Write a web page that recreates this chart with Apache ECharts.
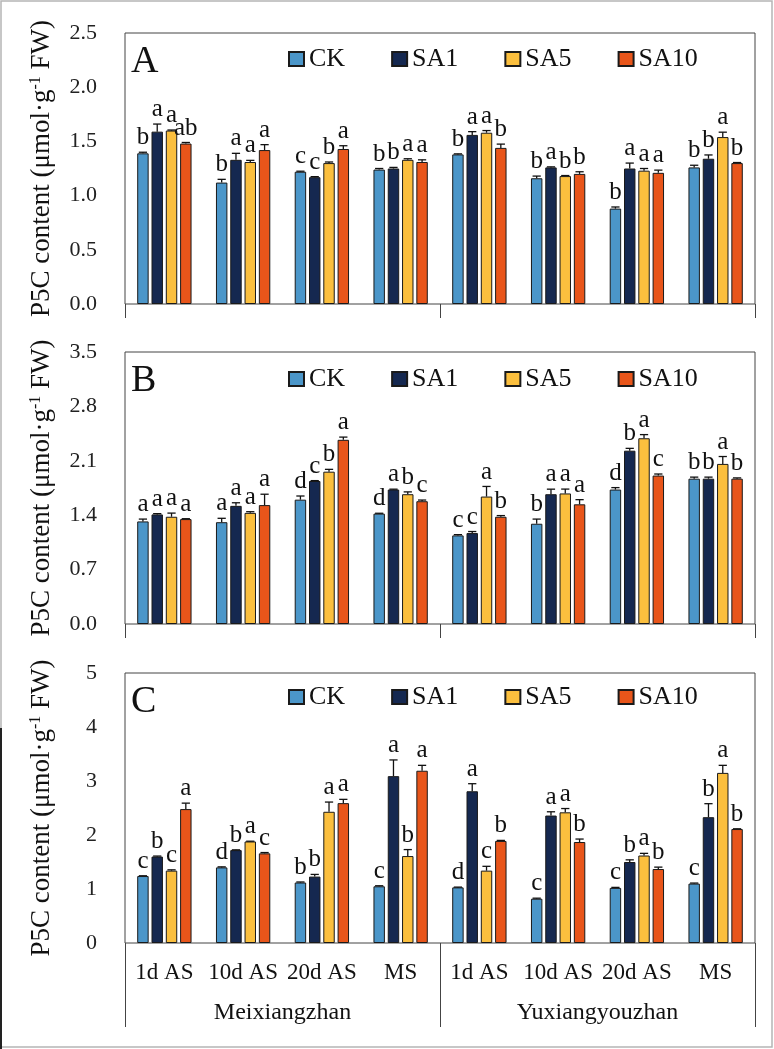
<!DOCTYPE html>
<html>
<head>
<meta charset="utf-8">
<script src="https://cdn.jsdelivr.net/npm/echarts@6/dist/echarts.min.js"></script>
<style>
html, body { margin: 0; padding: 0; background: #fff; }
#chart { width: 774px; height: 1049px; }
</style>
</head>
<body>
<div id="chart"></div>
<script>
// categories / groups / treatments
var categories = ['1d AS', '10d AS', '20d AS', 'MS', '1d AS', '10d AS', '20d AS', 'MS'];
var cultivars = ['Meixiangzhan', 'Yuxiangyouzhan'];
var treatments = ['CK', 'SA1', 'SA5', 'SA10'];
var colors = ['#4b96c9', '#152850', '#fbbf3e', '#e8551a'];

// panel A  (rows: CK, SA1, SA5, SA10)
var aMean = [
    [1.39, 1.12, 1.22, 1.24, 1.38, 1.16, 0.88, 1.26],
    [1.59, 1.33, 1.17, 1.25, 1.56, 1.26, 1.25, 1.34],
    [1.60, 1.31, 1.30, 1.33, 1.58, 1.18, 1.23, 1.54],
    [1.48, 1.42, 1.43, 1.31, 1.44, 1.20, 1.21, 1.30]
];
var aErr = [
    [0.01, 0.03, 0.005, 0.01, 0.005, 0.02, 0.015, 0.02],
    [0.07, 0.06, 0.005, 0.01, 0.03, 0.005, 0.05, 0.035],
    [0.005, 0.015, 0.01, 0.01, 0.02, 0.005, 0.02, 0.045],
    [0.01, 0.05, 0.03, 0.02, 0.035, 0.02, 0.025, 0.005]
];
var aSig = [
    ['b', 'b', 'c', 'b', 'b', 'b', 'b', 'b'],
    ['a', 'a', 'c', 'b', 'a', 'a', 'a', 'b'],
    ['a', 'a', 'b', 'a', 'a', 'b', 'a', 'a'],
    ['ab', 'a', 'a', 'a', 'b', 'b', 'a', 'b']
];

// panel B
var bMean = [
    [1.32, 1.31, 1.60, 1.42, 1.14, 1.29, 1.73, 1.87],
    [1.41, 1.52, 1.84, 1.73, 1.17, 1.67, 2.23, 1.87],
    [1.38, 1.43, 1.96, 1.67, 1.64, 1.68, 2.39, 2.06],
    [1.35, 1.53, 2.37, 1.58, 1.38, 1.54, 1.91, 1.87]
];
var bErr = [
    [0.03, 0.05, 0.047, 0.005, 0.01, 0.06, 0.025, 0.02],
    [0.01, 0.04, 0.005, 0.005, 0.02, 0.065, 0.03, 0.02],
    [0.047, 0.015, 0.03, 0.03, 0.13, 0.056, 0.047, 0.095],
    [0.005, 0.14, 0.035, 0.015, 0.015, 0.06, 0.02, 0.01]
];
var bSig = [
    ['a', 'a', 'd', 'd', 'c', 'b', 'd', 'b'],
    ['a', 'a', 'c', 'a', 'c', 'a', 'b', 'b'],
    ['a', 'a', 'b', 'b', 'a', 'a', 'a', 'a'],
    ['a', 'a', 'a', 'c', 'b', 'a', 'c', 'b']
];

// panel C
var cMean = [
    [1.24, 1.40, 1.12, 1.05, 1.03, 0.82, 1.02, 1.10],
    [1.60, 1.72, 1.23, 3.09, 2.81, 2.36, 1.50, 2.33],
    [1.34, 1.88, 2.43, 1.61, 1.34, 2.42, 1.62, 3.15],
    [2.48, 1.66, 2.59, 3.19, 1.89, 1.87, 1.37, 2.11]
];
var cErr = [
    [0.005, 0.01, 0.01, 0.01, 0.005, 0.01, 0.01, 0.01],
    [0.01, 0.005, 0.04, 0.3, 0.14, 0.07, 0.04, 0.25],
    [0.015, 0.005, 0.18, 0.12, 0.08, 0.07, 0.04, 0.14],
    [0.11, 0.015, 0.07, 0.1, 0.01, 0.055, 0.035, 0.005]
];
var cSig = [
    ['c', 'd', 'b', 'c', 'd', 'c', 'c', 'c'],
    ['b', 'b', 'b', 'a', 'a', 'a', 'b', 'b'],
    ['c', 'a', 'a', 'b', 'c', 'a', 'a', 'a'],
    ['a', 'c', 'a', 'a', 'b', 'b', 'b', 'b']
];

var aTicks = { max: 2.5, interval: 0.5, digits: 1 };
var bTicks = { max: 3.5, interval: 0.7, digits: 1 };
var cTicks = { max: 5, interval: 1, digits: 0 };

var FONT = 'Liberation Serif';
var CAT_GAP = 0.31;
var BAR_GAP = 0.25;

var panels = [
    { letter: 'A', mean: aMean, err: aErr, sig: aSig, ticks: aTicks, top: 33, height: 271, tick: 14, legendTop: 41 },
    { letter: 'B', mean: bMean, err: bErr, sig: bSig, ticks: bTicks, top: 352, height: 272, tick: 14, legendTop: 361 },
    { letter: 'C', mean: cMean, err: cErr, sig: cSig, ticks: cTicks, top: 673, height: 270, tick: 84, legendTop: 679 }
];

// error bar + letter drawn at the bar's own slot in the group
function errorRender(k, sig) {
    return function (params, api) {
        var ci = api.value(0);
        var v = api.value(1);
        var top = v + api.value(2);
        var band = api.size([1, 0])[0];
        var used = band * (1 - CAT_GAP);
        var bw = used / (4 + 3 * BAR_GAP);
        var cx = api.coord([ci, 0])[0] - used / 2 + k * bw * (1 + BAR_GAP) + bw / 2;
        var yBar = api.coord([ci, v])[1];
        var yTop = api.coord([ci, top])[1];
        var cap = bw * 0.36;
        return {
            type: 'group',
            children: [
                { type: 'line', shape: { x1: cx, y1: yBar, x2: cx, y2: yTop }, style: { stroke: '#111', lineWidth: 1.3 } },
                { type: 'line', shape: { x1: cx - cap, y1: yTop, x2: cx + cap, y2: yTop }, style: { stroke: '#111', lineWidth: 1.3 } },
                {
                    type: 'text', x: cx, y: yTop - 2,
                    style: {
                        text: sig[params.dataIndex], fill: '#111', fontSize: 25, fontFamily: FONT,
                        textAlign: 'center', textVerticalAlign: 'bottom'
                    }
                }
            ]
        };
    };
}

var grid = [], xAxis = [], yAxis = [], series = [], legend = [], graphic = [];

panels.forEach(function (p, i) {
    grid.push({
        left: 125, width: 630, top: p.top, height: p.height,
        show: true, borderColor: '#444', borderWidth: 1, backgroundColor: '#fff'
    });
    // stage axis
    xAxis.push({
        type: 'category', gridIndex: i, data: categories, position: 'bottom',
        axisLine: { show: false }, axisTick: { show: false },
        axisLabel: { show: i === 2, fontSize: 23, fontFamily: FONT, color: '#111', margin: 18, interval: 0 }
    });
    // cultivar axis, ticks make the dividers below the baseline
    xAxis.push({
        type: 'category', gridIndex: i, data: cultivars, position: 'bottom',
        axisLine: { show: false },
        axisTick: { show: true, length: p.tick, lineStyle: { color: '#444', width: 1 } },
        axisLabel: { show: i === 2, fontSize: 24, fontFamily: FONT, color: '#111', margin: 58 }
    });
    yAxis.push({
        type: 'value', gridIndex: i, min: 0, max: p.ticks.max, interval: p.ticks.interval,
        axisLine: { show: false }, axisTick: { show: false }, splitLine: { show: false },
        axisLabel: {
            fontSize: 22, fontFamily: FONT, color: '#222', margin: 28,
            formatter: (function (d) { return function (v) { return v.toFixed(d); }; })(p.ticks.digits)
        },
        name: 'P5C content (μmol·g{s|-1} FW)',
        nameLocation: 'middle', nameRotate: 90, nameGap: 70,
        nameTextStyle: {
            fontSize: 27, fontFamily: FONT, color: '#111',
            rich: { s: { fontSize: 16, fontFamily: FONT, color: '#111', verticalAlign: 'top' } }
        }
    });
    treatments.forEach(function (name, k) {
        series.push({
            name: name, type: 'bar', xAxisIndex: 2 * i, yAxisIndex: i,
            data: p.mean[k], barGap: '25%', barCategoryGap: '31%',
            itemStyle: { color: colors[k], borderColor: '#1a1a1a', borderWidth: 1 },
            z: 2
        });
        series.push({
            name: 'err-' + name, type: 'custom', xAxisIndex: 2 * i, yAxisIndex: i,
            data: p.mean[k].map(function (v, j) { return [j, v, p.err[k][j]]; }),
            encode: { x: 0, y: 1 },
            renderItem: errorRender(k, p.sig[k]),
            z: 3
        });
    });
    legend.push({
        data: treatments, top: p.legendTop, left: 283, icon: 'rect',
        itemWidth: 15, itemHeight: 14, itemGap: 46,
        textStyle: { fontSize: 26, fontFamily: FONT, color: '#111' }
    });
    graphic.push({
        type: 'text', left: 131, top: p.top + 10,
        style: { text: p.letter, fontSize: 38, fontFamily: FONT, fill: '#111' }
    });
});

graphic.push({
    type: 'rect', shape: { x: 1, y: 1, width: 771, height: 1046 },
    style: { fill: null, stroke: '#b5b5b5', lineWidth: 1.5 }, silent: true
});
graphic.push({
    type: 'line', shape: { x1: 1, y1: 728, x2: 1, y2: 1049 },
    style: { stroke: '#222', lineWidth: 2 }, silent: true
});

var myChart = echarts.init(document.getElementById('chart'));
myChart.setOption({
    animation: false,
    backgroundColor: '#fff',
    textStyle: { fontFamily: FONT },
    grid: grid,
    xAxis: xAxis,
    yAxis: yAxis,
    legend: legend,
    series: series,
    graphic: graphic
});
</script>
</body>
</html>
